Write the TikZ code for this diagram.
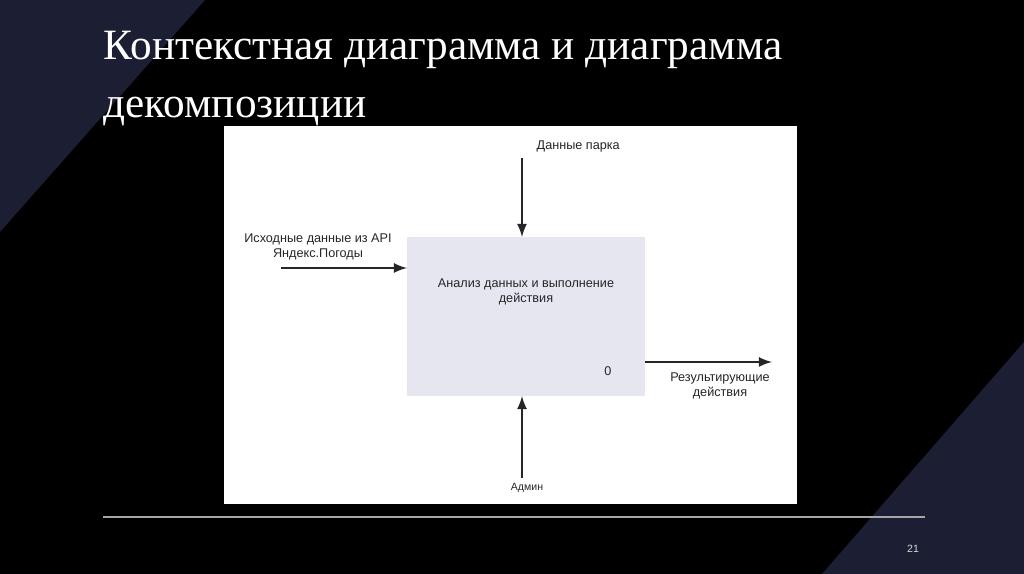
\documentclass[tikz,border=0pt]{standalone}
\usepackage{fontspec}
\setmainfont{Liberation Serif}
\newfontfamily\diagfont{Liberation Sans}
\begin{document}
\begin{tikzpicture}[x=0.01cm,y=-0.01cm,
  lbl/.style={font=\diagfont\fontsize{3.6}{4.3}\selectfont,text=black!85,align=center,inner sep=0},
  arr/.style={-latex,black!85,line width=0.3pt}]
\definecolor{navy}{HTML}{1C1F33}
\fill[black] (0,0) rectangle (1024,574);
\useasboundingbox (0,0) rectangle (1024,574);
\fill[navy] (0,0) -- (205,0) -- (0,232) -- cycle;
\fill[navy] (822,574) -- (1024,342) -- (1024,574) -- cycle;
\node[anchor=north west,text=white,align=left,inner sep=0,font=\fontsize{12.3}{16.5}\selectfont] (title) at (103,30) {Контекстная диаграмма и диаграмма\\декомпозиции};
\fill[white] (224,126) rectangle (797,504);
\node[draw=none,fill={rgb,255:red,230;green,230;blue,240},minimum width=238*0.01cm,minimum height=159*0.01cm,inner sep=0] (box) at (526,316.5) {};
\node[lbl] (boxt) at (526,292) {Анализ данных и выполнение\\действия};
\node[lbl] (zero) at (608,371) {0};
\node[lbl,anchor=west] (top) at (536,146) {Данные парка};
\coordinate (topc) at (522,158);
\draw[arr] (topc) -- (522,237);
\node[lbl] (left) at (318,247) {Исходные данные из API\\Яндекс.Погоды};
\coordinate (leftc) at (281,268);
\draw[arr] (leftc) -- (407,268);
\coordinate (rightc) at (772,362);
\draw[arr] (645,362) -- (rightc);
\node[lbl] (right) at (720,386) {Результирующие\\действия};
\coordinate (botc) at (522,478);
\draw[arr] (botc) -- (522,396);
\node[lbl,font=\diagfont\fontsize{3}{4}\selectfont] (adm) at (527,488) {Админ};
\draw[gray!70,line width=0.4pt] (103,517) -- (925,517);
\node[text=white!85!black,font=\diagfont\fontsize{3}{4}\selectfont] (pg) at (913,549) {21};
\end{tikzpicture}
\end{document}
